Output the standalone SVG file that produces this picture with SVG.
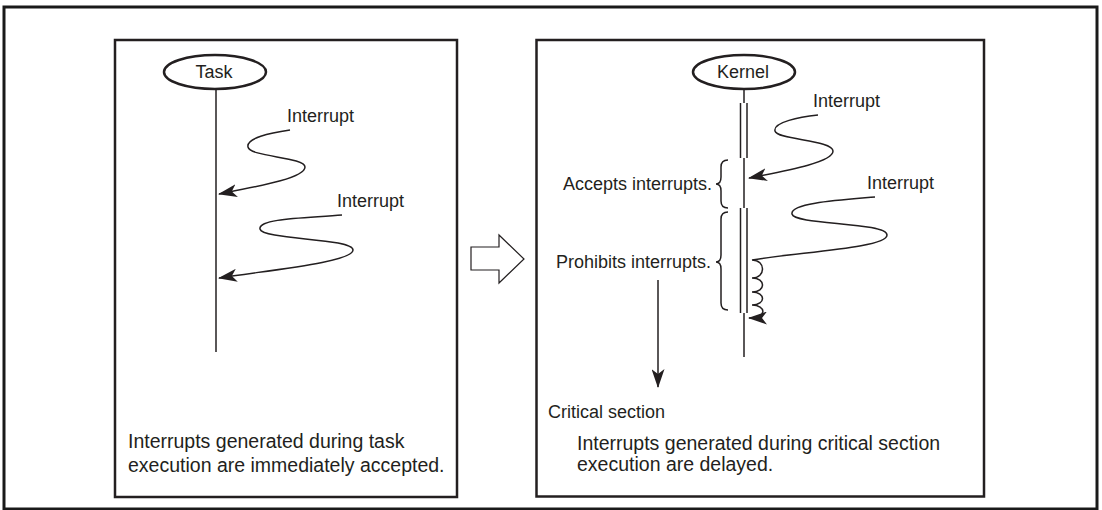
<svg xmlns="http://www.w3.org/2000/svg" width="1102" height="510" viewBox="0 0 1102 510">
  <style>
    .frame { fill: none; stroke: #1a1a1a; stroke-width: 3; }
    .panel { fill: #ffffff; stroke: #231f20; stroke-width: 2.5; }
    .node { fill: #ffffff; stroke: #231f20; stroke-width: 2.5; }
    .line { fill: none; stroke: #231f20; stroke-width: 1.5; }
    .wave { fill: none; stroke: #231f20; stroke-width: 1.5; marker-end: url(#head); }
    .label { font-family: "Liberation Sans", Arial, sans-serif; font-size: 18px; fill: #231f20; }
    .note { font-family: "Liberation Sans", Arial, sans-serif; font-size: 19.5px; fill: #231f20; }
  </style>
  <defs>
    <marker id="head" viewBox="0 0 19 13" markerWidth="19" markerHeight="13" refX="18" refY="6.5" orient="auto" markerUnits="userSpaceOnUse">
      <path d="M0,0 L19,6.5 L0,13 L5,6.5 z" fill="#231f20"/>
    </marker>
  </defs>

  <rect width="1102" height="510" fill="#ffffff"/>
  <!-- figure frame -->
  <rect class="frame" x="4" y="7" width="1093" height="502"/>

  <!-- left panel: task -->
  <g id="panel-task">
    <rect class="panel" x="115" y="40" width="342" height="457"/>
    <text class="note" x="128" y="448">Interrupts generated during task</text>
    <text class="note" x="128" y="472">execution are immediately accepted.</text>
  </g>
  <g id="task">
    <ellipse class="node" cx="215" cy="72" rx="51" ry="17"/>
    <text class="label" x="214" y="78" text-anchor="middle">Task</text>
  </g>
  <g id="task-line">
    <line class="line" x1="216" y1="89" x2="216" y2="352"/>
  </g>
  <g id="task-interrupt-1">
    <text class="label" x="287" y="122">Interrupt</text>
  </g>
  <g id="task-interrupt-2">
    <text class="label" x="337" y="207">Interrupt</text>
  </g>

  <!-- transition arrow -->
  <g id="transition">
    <polygon points="471,247 499,247 499,235 524,259 499,283 499,270 471,270" fill="#ffffff" stroke="#231f20" stroke-width="1.2"/>
  </g>

  <!-- right panel: kernel -->
  <g id="panel-kernel">
    <rect class="panel" x="536.5" y="40" width="447.5" height="456.5"/>
    <text class="label" x="548" y="418">Critical section</text>
    <text class="note" x="577" y="450">Interrupts generated during critical section</text>
    <text class="note" x="577" y="471">execution are delayed.</text>
  </g>
  <g id="kernel">
    <ellipse class="node" cx="744" cy="72" rx="51" ry="17"/>
    <text class="label" x="743" y="78" text-anchor="middle">Kernel</text>
  </g>
  <g id="kernel-line">
    <line class="line" x1="744" y1="89" x2="744" y2="103"/>
    <line class="line" x1="740.5" y1="103" x2="740.5" y2="158"/>
    <line class="line" x1="747" y1="103" x2="747" y2="158"/>
    <line class="line" x1="744" y1="158" x2="744" y2="208"/>
    <line class="line" x1="740.5" y1="208" x2="740.5" y2="313"/>
    <line class="line" x1="747" y1="208" x2="747" y2="313"/>
    <line class="line" x1="744" y1="313" x2="744" y2="357"/>
  </g>
  <g id="accepts">
    <path class="line" d="M728,160 Q721,160 721,167 L721,177 Q721,184 716,184 Q721,184 721,191 L721,201 Q721,208 728,208"/>
    <text class="label" x="712" y="190" text-anchor="end">Accepts interrupts.</text>
  </g>
  <g id="prohibits">
    <path class="line" d="M728,212 Q721,212 721,219 L721,255 Q721,262 716,262 Q721,262 721,269 L721,303 Q721,310 728,310"/>
    <text class="label" x="711" y="268" text-anchor="end">Prohibits interrupts.</text>
  </g>
  <g id="kernel-interrupt-1">
    <text class="label" x="813" y="107">Interrupt</text>
  </g>
  <g id="kernel-interrupt-2">
    <text class="label" x="867" y="189">Interrupt</text>
  </g>

  <!-- connectors -->
  <g id="connectors">
    <path class="wave" d="M290,130 C270,133 246,138 248,147 C250,157 305,157 305,167 C305,178 260,186 219,194"/>
    <path class="wave" d="M342,215 C310,218 258,218 260,229 C262,240 353,238 353,250 C353,262 270,270 219,278"/>
    <path class="wave" d="M818,115 C800,117 773,122 775,131 C777,140 833,140 833,151 C833,162 790,170 749,178"/>
    <path class="wave" d="M875,197 C840,200 790,203 792,214 C794,225 887,222 887,235 C887,248 800,252 752,260 C766,260 766,278 752,278 C766,278 766,292 752,292 C766,292 766,305 752,305 C766,305 768,318 749,318"/>
    <path class="wave" d="M658,280 L658,387"/>
  </g>
</svg>
